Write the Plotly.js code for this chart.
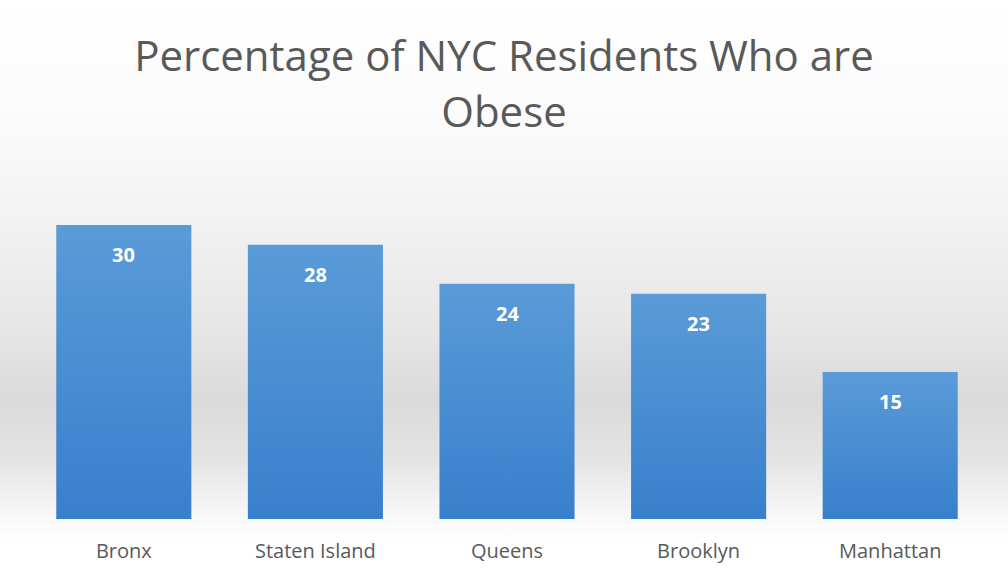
<!DOCTYPE html>
<html>
<head>
<meta charset="utf-8">
<script src="https://cdn.plot.ly/plotly-3.0.1.min.js"></script>
<style>
  html, body { margin: 0; padding: 0; }
  body {
    width: 1008px; height: 577px; overflow: hidden;
    background: linear-gradient(to bottom, #ffffff 0px, #fbfbfb 120px, #f1f1f1 230px, #e6e6e6 330px, #dadada 400px, #e4e4e4 460px, #f6f6f6 510px, #ffffff 540px, #ffffff 577px);
  }
  #chart { width: 1008px; height: 577px; }
</style>
</head>
<body>
<div id="chart"></div>
<script>
const boroughs = ["Bronx", "Staten Island", "Queens", "Brooklyn", "Manhattan"];
const obesityPct = [30, 28, 24, 23, 15];
const titleLines = ["Percentage of NYC Residents Who are", "Obese"];

const trace = {
  type: "bar",
  x: boroughs,
  y: obesityPct,
  marker: { color: "#4a8dd4", line: { width: 0 } },
  hoverinfo: "x+y"
};

const annotations = boroughs.map((b, i) => ({
  x: b, y: obesityPct[i], xref: "x", yref: "y",
  text: String(obesityPct[i]),
  showarrow: false, yanchor: "top", yshift: -14,
  font: { family: "Open Sans, DejaVu Sans, sans-serif", size: 20, color: "#ffffff", weight: "bold" }
}));

const layout = {
  width: 1008, height: 577,
  paper_bgcolor: "rgba(0,0,0,0)",
  plot_bgcolor: "rgba(0,0,0,0)",
  margin: { l: 28, r: 22, t: 180, b: 58 },
  title: {
    text: titleLines.map(t => "<span style='font-size:42px'>" + t + "</span>").join("<br>"),
    x: 0.5, xanchor: "center",
    y: 0.877, yanchor: "top",
    yref: "container",
    font: { family: "Open Sans, sans-serif", size: 43, color: "#595959" }
  },
  bargap: 0.295,
  xaxis: {
    showgrid: false, zeroline: false, showline: false,
    ticks: "", ticklabelstandoff: 18,
    tickfont: { family: "Open Sans, sans-serif", size: 20, color: "#595959" }
  },
  yaxis: {
    range: [0, 34.6], visible: false, showgrid: false, zeroline: false
  },
  annotations: annotations,
  showlegend: false
};

Plotly.newPlot("chart", [trace], layout, { displayModeBar: false, staticPlot: true }).then(gd => {
  const svg = gd.querySelector("svg.main-svg");
  const ns = "http://www.w3.org/2000/svg";
  let defs = svg.querySelector("defs");
  if (!defs) { defs = document.createElementNS(ns, "defs"); svg.insertBefore(defs, svg.firstChild); }
  const grad = document.createElementNS(ns, "linearGradient");
  grad.setAttribute("id", "barGrad");
  grad.setAttribute("x1", "0"); grad.setAttribute("y1", "0");
  grad.setAttribute("x2", "0"); grad.setAttribute("y2", "1");
  [["0", "#5a9bd8"], ["1", "#3880cc"]].forEach(([o, c]) => {
    const s = document.createElementNS(ns, "stop");
    s.setAttribute("offset", o); s.setAttribute("stop-color", c);
    grad.appendChild(s);
  });
  defs.appendChild(grad);
  gd.querySelectorAll(".bars .point path").forEach(p => {
    p.style.fill = "url(#barGrad)";
  });
});
</script>
</body>
</html>
